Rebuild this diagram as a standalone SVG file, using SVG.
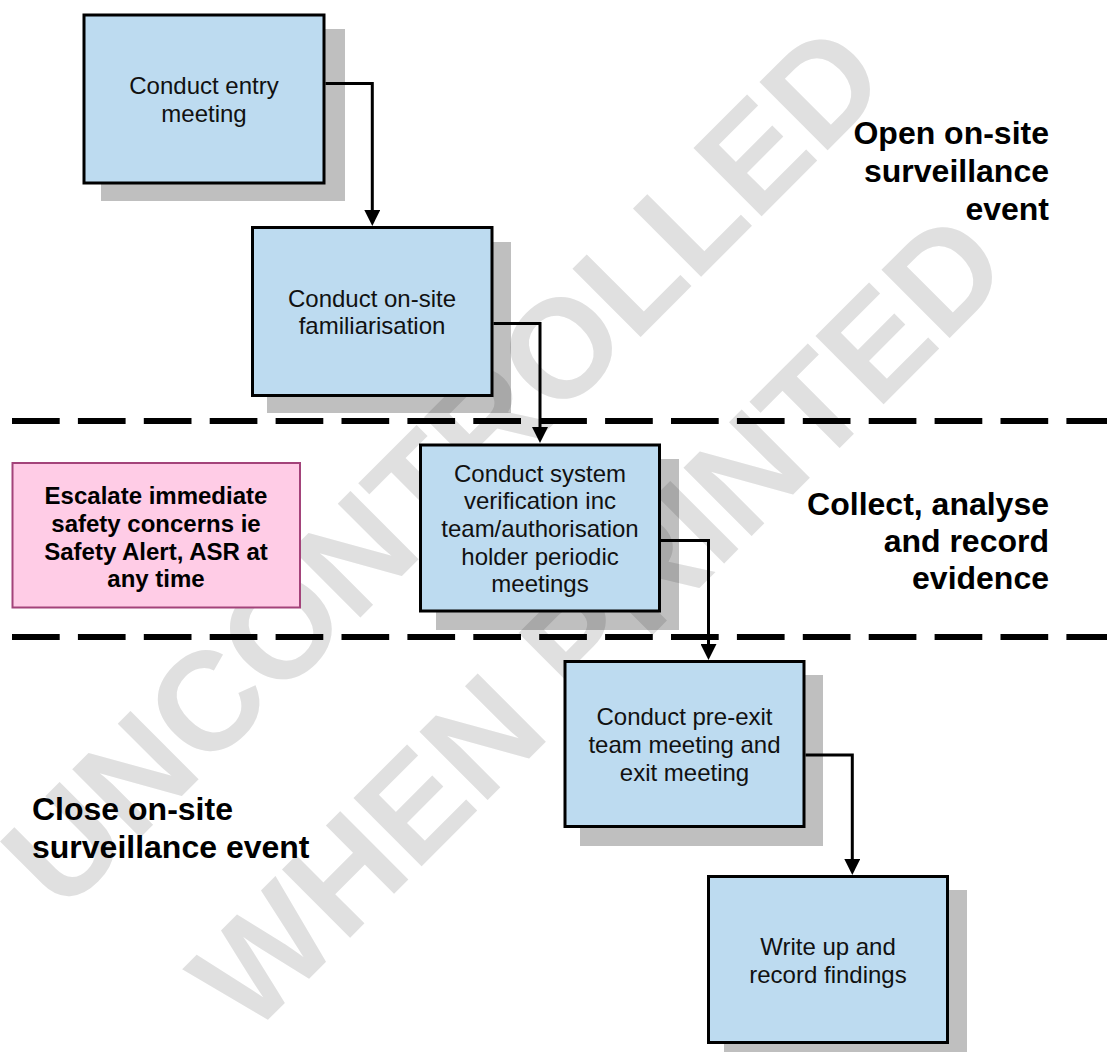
<svg xmlns="http://www.w3.org/2000/svg" width="1107" height="1052" viewBox="0 0 1107 1052">
  <defs>
    <style>
      .wm { font-family: "Liberation Sans", Arial, sans-serif; font-weight: bold; font-size: 140px; fill: #e0e0e0; text-anchor: middle; }
      .shadow { fill: #000; fill-opacity: 0.25; }
      .box { fill: #bddbf0; stroke: #000; stroke-width: 3; }
      .alert { fill: #ffcce6; stroke: #a3437a; stroke-width: 2; }
      .lbl { font-family: "Liberation Sans", Arial, sans-serif; font-size: 24px; fill: #111; text-anchor: middle; }
      .alert-lbl { font-family: "Liberation Sans", Arial, sans-serif; font-size: 24px; font-weight: bold; fill: #000; text-anchor: middle; }
      .phase { font-family: "Liberation Sans", Arial, sans-serif; font-size: 32px; font-weight: bold; fill: #000; }
      .divider { stroke: #000; stroke-width: 6; stroke-dasharray: 47.7 18.2; fill: none; }
      .conn { stroke: #000; stroke-width: 3; fill: none; }
    </style>
    <marker id="arrow" markerUnits="userSpaceOnUse" markerWidth="16" markerHeight="16" refX="8" refY="8" orient="auto">
      <path d="M0,0 L16,8 L0,16 Z" fill="#000"/>
    </marker>
  </defs>

  <rect width="1107" height="1052" fill="#fff"/>

  <!-- watermark -->
  <g id="watermark">
    <text class="wm" transform="translate(442,465) rotate(-45)" x="0" y="50">UNCONTROLLED</text>
    <text class="wm" transform="translate(597,620) rotate(-45)" x="0" y="50">WHEN PRINTED</text>
  </g>

  <!-- phase dividers -->
  <g id="dividers">
    <line class="divider" x1="12" y1="421" x2="1107" y2="421"/>
    <line class="divider" x1="12" y1="637" x2="1107" y2="637"/>
  </g>

  <!-- phase labels -->
  <g id="phase-open">
    <text class="phase" text-anchor="end" x="1049" y="144">Open on-site<tspan x="1049" dy="37.8">surveillance</tspan><tspan x="1049" dy="37.8">event</tspan></text>
  </g>
  <g id="phase-collect">
    <text class="phase" text-anchor="end" x="1049" y="515">Collect, analyse<tspan x="1049" dy="37">and record</tspan><tspan x="1049" dy="37">evidence</tspan></text>
  </g>
  <g id="phase-close">
    <text class="phase" x="32" y="820">Close on-site<tspan x="32" dy="37.7">surveillance event</tspan></text>
  </g>

  <!-- process steps -->
  <g id="entry-meeting">
    <rect class="shadow" x="101" y="29" width="244" height="172"/>
    <rect class="box" x="84" y="15" width="240" height="168"/>
    <text class="lbl" x="204" y="94.2">Conduct entry<tspan x="204" dy="27.6">meeting</tspan></text>
  </g>

  <g id="familiarisation">
    <rect class="shadow" x="267" y="242" width="244" height="171"/>
    <rect class="box" x="252.5" y="227.5" width="239.5" height="168"/>
    <text class="lbl" x="372" y="306.7">Conduct on-site<tspan x="372" dy="27.6">familiarisation</tspan></text>
  </g>

  <g id="system-verification">
    <rect class="shadow" x="436" y="459" width="243" height="171"/>
    <rect class="box" x="420.5" y="445" width="239" height="166"/>
    <text class="lbl" x="540" y="481.8">Conduct system<tspan x="540" dy="27.6">verification inc</tspan><tspan x="540" dy="27.6">team/authorisation</tspan><tspan x="540" dy="27.6">holder periodic</tspan><tspan x="540" dy="27.6">meetings</tspan></text>
  </g>

  <g id="exit-meeting">
    <rect class="shadow" x="580" y="675" width="243" height="171"/>
    <rect class="box" x="565" y="661.5" width="239" height="165"/>
    <text class="lbl" x="684.5" y="725.4">Conduct pre-exit<tspan x="684.5" dy="27.6">team meeting and</tspan><tspan x="684.5" dy="27.6">exit meeting</tspan></text>
  </g>

  <g id="write-up">
    <rect class="shadow" x="724" y="890" width="243" height="171"/>
    <rect class="box" x="708.5" y="876.5" width="239" height="166"/>
    <text class="lbl" x="828" y="955">Write up and<tspan x="828" dy="27.6">record findings</tspan></text>
  </g>

  <g id="escalate">
    <rect class="alert" x="12.5" y="463" width="287.5" height="144.5"/>
    <text class="alert-lbl" x="156" y="504">Escalate immediate<tspan x="156" dy="27.8">safety concerns ie</tspan><tspan x="156" dy="27.8">Safety Alert, ASR at</tspan><tspan x="156" dy="27.8">any time</tspan></text>
  </g>

  <!-- connectors -->
  <g id="connectors">
    <path class="conn" d="M325.5,83.5 H372.3 V218" marker-end="url(#arrow)"/>
    <path class="conn" d="M493.5,323.5 H540 V435" marker-end="url(#arrow)"/>
    <path class="conn" d="M661,540.5 H708.5 V652" marker-end="url(#arrow)"/>
    <path class="conn" d="M805.5,755 H852.3 V867" marker-end="url(#arrow)"/>
  </g>
</svg>
